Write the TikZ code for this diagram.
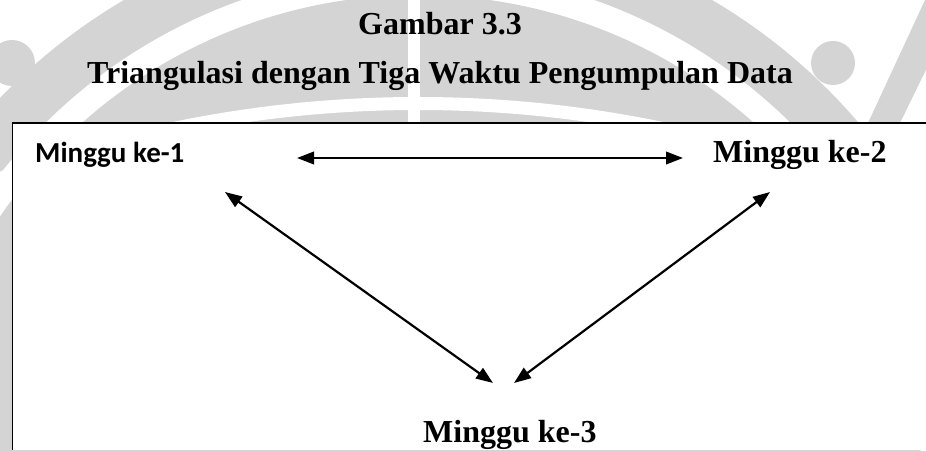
\documentclass[tikz,border=0pt]{standalone}
\usepackage{fontspec}
\setmainfont{Liberation Serif}
\newfontfamily\carlito{Carlito}
\usetikzlibrary{arrows.meta}
\begin{document}
\begin{tikzpicture}[x=1pt,y=1pt,
  wm/.style={fill=black!17},
  titletext/.style={font=\bfseries\fontsize{32}{36}\selectfont, inner sep=0pt},
  weektext/.style={font=\bfseries\fontsize{32}{36}\selectfont, inner sep=0pt},
  weeksans/.style={font=\carlito\bfseries\fontsize{29}{32}\selectfont, inner sep=0pt},
  link/.style={line width=2.2pt, {Triangle[length=17pt,width=12.5pt]}-{Triangle[length=17pt,width=12.5pt]}},
]
\useasboundingbox (0,0) rectangle (926,450);

% faint logo behind the heading
\begin{scope}
  \clip (0,0) rectangle (926,450);
  \fill[wm] (418,-50) circle[radius=580];
  \fill[white] (418,-50) circle[radius=530];
  \fill[wm] (418,-50) circle[radius=505];
  \fill[white] (408,0) rectangle (420,450);
  \draw[white, line width=13pt] (418,-850) circle[radius=1196.5];
  \fill[wm] (12,387) circle[radius=23];
  \fill[wm] (833,387) circle[radius=22];
  \fill[wm] (925,450) -- (960,450) -- (900,327) -- (868,327) -- cycle;
\end{scope}

% frame of the figure
\fill[white] (12.5,0) rectangle (926,327);
\draw[line width=1.8pt] (12.5,0) -- (12.5,327) -- (926,327);

% heading
\node[titletext, anchor=base] (cap) at (440,415) {Gambar 3.3};
\node[titletext, anchor=base] (title) at (440,366) {Triangulasi dengan Tiga Waktu Pengumpulan Data};

% the three data collection times
\node[weeksans, anchor=base west] (w1) at (35,287) {Minggu ke-1};
\node[weektext, anchor=base west] (w2) at (713,287) {Minggu ke-2};
\node[weektext, anchor=base west] (w3) at (423,8) {Minggu ke-3};

% arrow ends beside the labels
\coordinate (h1) at (297,292);
\coordinate (h2) at (683,292);
\coordinate (d1) at (225,258);
\coordinate (d1b) at (493,67);
\coordinate (d2) at (770,258);
\coordinate (d2b) at (514,67);

\draw[link] (h1) -- (h2);
\draw[link] (d1) -- (d1b);
\draw[link] (d2) -- (d2b);
\end{tikzpicture}
\end{document}
